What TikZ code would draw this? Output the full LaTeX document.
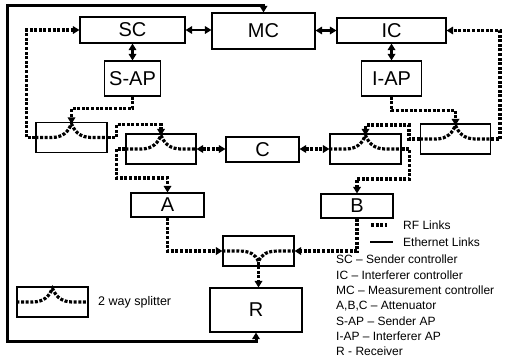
\documentclass[tikz,border=0pt]{standalone}
\usepackage{fontspec}
\setmainfont{Liberation Sans}
\usetikzlibrary{arrows.meta,calc}

\begin{document}
\begin{tikzpicture}[x=1pt,y=-1pt,
    blk/.style={draw, line width=1.1pt, inner sep=0pt, font=\fontsize{20}{20}\selectfont},
    splbox/.style={draw, line width=1.1pt, minimum width=71pt, minimum height=30pt, inner sep=0pt},
    rf/.style={line width=3.2pt, dash pattern=on 3pt off 1.6pt},
    eth/.style={line width=2.2pt},
    frame/.style={line width=3pt},
    legtxt/.style={font=\fontsize{12}{15.3}\selectfont, inner sep=0pt},
    >={Triangle[length=6.5pt,width=7.5pt]}]
  \useasboundingbox (0,0) rectangle (505,362);
  % controllers and access points
  \node[blk, minimum width=105pt, minimum height=26pt] (sc) at (132.5,30) {SC};
  \node[blk, minimum width=103pt, minimum height=36pt] (mc) at (263.5,31) {MC};
  \node[blk, minimum width=109pt, minimum height=25pt] (ic) at (391.5,30.5) {IC};
  \node[blk, minimum width=56pt, minimum height=35pt] (sap) at (132.5,78.5) {S-AP};
  \node[blk, minimum width=60pt, minimum height=35pt] (iap) at (391.5,78.5) {I-AP};
  % splitters
  \node[splbox] (sl) at (71.5,137.5) {};
  \node[splbox, minimum width=70pt] (sml) at (161,149) {};
  \node[splbox] (smr) at (365.5,149) {};
  \node[splbox, minimum width=70pt] (sr) at (455.5,139) {};
  \node[splbox] (sb) at (258.5,251) {};
  \node[splbox] (ls) at (52.5,302) {};
  % attenuators and receiver
  \node[blk, minimum width=73pt, minimum height=25pt] (c) at (262.5,149.5) {C};
  \node[blk, minimum width=73pt, minimum height=24pt] (a) at (167.5,205) {A};
  \node[blk, minimum width=72pt, minimum height=24pt] (b) at (357,206) {B};
  \node[blk, minimum width=92pt, minimum height=44pt] (r) at (256,310) {R};

  \foreach \s in {sl,sml,smr,sr,ls}
    \draw[rf] (\s.west) -- ($(\s.center)+(-20,0)$)
      .. controls +(12,0) and +(-3,7) .. ($(\s.north)+(0,2)$)
      .. controls +(3,7) and +(-12,0) .. ($(\s.center)+(20,0)$) -- (\s.east);
  \coordinate (sbm) at ($(sb.south)+(0,-5)$);
  \draw[rf] (sb.west) -- ($(sb.center)+(-20,0)$)
    .. controls +(12,0) and +(-3,-7) .. (sbm)
    .. controls +(3,-7) and +(-12,0) .. ($(sb.center)+(20,0)$) -- (sb.east);

  % ethernet links
  \draw[eth,<->] (sc.east) -- (sc.east -| mc.west);
  \draw[eth,<->] (mc.east |- ic.west) -- (ic.west);
  \draw[eth,<->] (sc.south) -- (sap.north);
  \draw[eth,<->] (ic.south) -- (iap.north);
  \coordinate (tl) at (7,5);
  \coordinate (bl) at (7,341);
  \draw[frame,<->] (mc.north) |- (tl) -- (bl) -| (r.south);

  % rf links
  \draw[rf,->] (sl.west) -- ++(-9,0) |- (sc.west);
  \draw[rf,->] (sap.south) -- ++(0,12) -| ($(sl.north)+(0,2)$);
  \draw[rf,->] (sl.east) -| ++(9,-13) -| ($(sml.north)+(0,2)$);
  \draw[rf,->] (sml.west) -| ++(-9,29) -| (a.north);
  \draw[rf,<->] (sml.east) -- (sml.east -| c.west);
  \draw[rf,<->] (c.east |- smr.west) -- (smr.west);
  \draw[rf,->] (smr.east) -| ++(8,30) -| (b.north);
  \draw[rf,->] (sr.west) -| ++(-11,-14) -| ($(smr.north)+(0,2)$);
  \draw[rf,->] (iap.south) -- ++(0,14) -| ($(sr.north)+(0,2)$);
  \draw[rf,->] (sr.east) -- ++(9,0) |- (ic.east);
  \draw[rf,->] (a.south) |- (sb.west);
  \draw[rf,->] (b.south) |- (sb.east);
  \draw[rf,->] (sbm) -- (sbm |- r.north);

  % legend
  \node[legtxt, font=\fontsize{12.5}{15}\selectfont, anchor=west] (lstxt) at (98,302) {2 way splitter};
  \node[legtxt, anchor=west] (rftxt) at (403,225) {RF Links};
  \node[legtxt, anchor=west] (ethtxt) at (403,242) {Ethernet Links};
  \draw[rf] ($(rftxt.west)+(-32,0)$) -- ++(16,0);
  \draw[eth] ($(ethtxt.west)+(-33,0)$) -- ++(23,0);
  \node[legtxt, align=left, anchor=north west] (keys) at (336,255) {SC – Sender controller\\
    IC – Interferer controller\\
    MC – Measurement controller\\
    A,B,C – Attenuator\\
    S-AP – Sender AP\\
    I-AP – Interferer AP\\
    R - Receiver};
\end{tikzpicture}
\end{document}
